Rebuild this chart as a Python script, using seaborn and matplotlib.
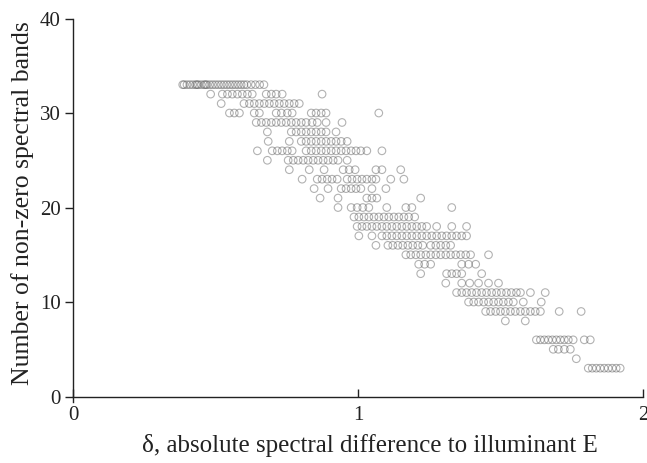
import matplotlib
matplotlib.use("Agg")
import matplotlib.pyplot as plt
import seaborn as sns
import pandas as pd

# x positions (delta) of the points in each row of band count
x_33 = [0.385, 0.39, 0.40, 0.41, 0.42, 0.43, 0.435, 0.44, 0.45, 0.46, 0.465, 0.47, 0.48, 0.49,
        0.50, 0.51, 0.52, 0.53, 0.54, 0.55, 0.56, 0.57, 0.58, 0.59, 0.60, 0.61, 0.625, 0.64, 0.655, 0.67]
x_32 = [0.483, 0.524, 0.542, 0.559, 0.577, 0.594, 0.612, 0.629, 0.678, 0.696, 0.713, 0.734, 0.874]
x_31 = [0.52, 0.60, 0.619, 0.636, 0.654, 0.671, 0.689, 0.706, 0.724, 0.741, 0.759, 0.776, 0.794]
x_30 = [0.549, 0.566, 0.584, 0.636, 0.654, 0.713, 0.731, 0.752, 0.769, 0.836, 0.853, 0.871, 0.888, 1.073]
x_29 = [0.643, 0.661, 0.678, 0.696, 0.713, 0.731, 0.748, 0.766, 0.783, 0.801, 0.818, 0.839, 0.857, 0.888, 0.944]
x_28 = [0.682, 0.766, 0.783, 0.801, 0.818, 0.836, 0.853, 0.871, 0.888, 0.923]
x_27 = [0.685, 0.759, 0.801, 0.818, 0.836, 0.853, 0.871, 0.888, 0.906, 0.923, 0.941, 0.962]
x_26 = [0.647, 0.699, 0.717, 0.734, 0.752, 0.769, 0.818, 0.836, 0.853, 0.871, 0.888, 0.906, 0.923,
        0.941, 0.958, 0.976, 0.993, 1.010, 1.031, 1.084]
x_25 = [0.682, 0.755, 0.773, 0.790, 0.808, 0.825, 0.843, 0.860, 0.878, 0.895, 0.913, 0.930, 0.962]
x_24 = [0.759, 0.829, 0.881, 0.948, 0.969, 0.990, 1.063, 1.084, 1.150]
x_23 = [0.804, 0.857, 0.874, 0.892, 0.909, 0.927, 0.962, 0.979, 0.997, 1.014, 1.031, 1.049, 1.063, 1.115, 1.161]
x_22 = [0.846, 0.895, 0.941, 0.958, 0.976, 0.993, 1.010, 1.049, 1.098]
x_21 = [0.867, 0.930, 1.031, 1.049, 1.066, 1.220]
x_20 = [0.930, 0.976, 0.997, 1.017, 1.038, 1.101, 1.168, 1.189, 1.329]
x_19 = [0.986, 1.003, 1.021, 1.038, 1.056, 1.073, 1.091, 1.108, 1.126, 1.143, 1.161, 1.178, 1.199]
x_18 = [0.997, 1.014, 1.031, 1.049, 1.066, 1.084, 1.101, 1.119, 1.136, 1.154, 1.171, 1.189, 1.206,
        1.224, 1.241, 1.276, 1.329, 1.381]
x_17 = [1.003, 1.049, 1.084, 1.101, 1.119, 1.136, 1.154, 1.171, 1.189, 1.206, 1.224, 1.241, 1.259,
        1.276, 1.294, 1.311, 1.329, 1.346, 1.364, 1.381]
x_16 = [1.063, 1.105, 1.122, 1.140, 1.157, 1.175, 1.192, 1.210, 1.227, 1.255, 1.273, 1.290, 1.308, 1.325]
x_15 = [1.168, 1.185, 1.203, 1.220, 1.238, 1.255, 1.273, 1.290, 1.308, 1.325, 1.343, 1.360, 1.378, 1.395, 1.458]
x_14 = [1.213, 1.234, 1.255, 1.364, 1.388, 1.413]
x_13 = [1.220, 1.311, 1.329, 1.346, 1.364, 1.434]
x_12 = [1.308, 1.364, 1.392, 1.423, 1.458, 1.493]
x_11 = [1.346, 1.364, 1.381, 1.399, 1.416, 1.434, 1.451, 1.469, 1.486, 1.503, 1.521, 1.538, 1.556,
        1.570, 1.605, 1.657]
x_10 = [1.388, 1.406, 1.423, 1.441, 1.458, 1.476, 1.493, 1.510, 1.528, 1.545, 1.580, 1.643]
x_9 = [1.448, 1.465, 1.483, 1.500, 1.517, 1.535, 1.552, 1.570, 1.587, 1.605, 1.622, 1.640, 1.706, 1.783]
x_8 = [1.517, 1.587]
x_6 = [1.626, 1.640, 1.654, 1.668, 1.682, 1.696, 1.710, 1.724, 1.738, 1.755, 1.794, 1.815]
x_5 = [1.685, 1.703, 1.724, 1.745]
x_4 = [1.766]
x_3 = [1.808, 1.822, 1.836, 1.850, 1.864, 1.878, 1.892, 1.906, 1.920]

band_counts = [33, 32, 31, 30, 29, 28, 27, 26, 25, 24, 23, 22, 21, 20, 19, 18, 17, 16, 15, 14,
               13, 12, 11, 10, 9, 8, 6, 5, 4, 3]
row_x = [x_33, x_32, x_31, x_30, x_29, x_28, x_27, x_26, x_25, x_24, x_23, x_22, x_21, x_20, x_19,
         x_18, x_17, x_16, x_15, x_14, x_13, x_12, x_11, x_10, x_9, x_8, x_6, x_5, x_4, x_3]

x_ticks = [0, 1, 2]
y_ticks = [0, 10, 20, 30, 40]
x_label = "δ, absolute spectral difference to illuminant E"
y_label = "Number of non-zero spectral bands"

rows = []
for n, xs in zip(band_counts, row_x):
    for v in xs:
        rows.append({"delta": v, "bands": n})
df = pd.DataFrame(rows)

sns.set_style("ticks")
plt.rcParams["font.family"] = ["Liberation Serif", "DejaVu Serif"]

fig = plt.figure(figsize=(6.47, 4.63), dpi=100)
ax = fig.add_axes([0.1128, 0.1313, 0.881, 0.8287])

sns.scatterplot(data=df, x="delta", y="bands", ax=ax, marker="o", s=30,
                facecolor="none", edgecolor="#555555", linewidth=0.8, alpha=0.45)

ax.set_xlim(0, 2)
ax.set_ylim(-0.6, 40)
ax.spines["bottom"].set_position(("data", 0))
ax.spines["top"].set_visible(False)
ax.spines["right"].set_visible(False)
for sp in ["left", "bottom"]:
    ax.spines[sp].set_color("#222222")
    ax.spines[sp].set_linewidth(1.0)

ax.set_xticks(x_ticks)
ax.set_yticks(y_ticks)
ax.set_xticklabels([str(t) for t in x_ticks])
ax.set_yticklabels([str(t) for t in y_ticks])
ax.tick_params(axis="x", direction="in", length=6, width=1.0, labelsize=15, pad=7, colors="#222222")
ax.tick_params(axis="y", direction="out", length=6, width=1.0, labelsize=15, pad=3, colors="#222222")

ax.set_xlabel(x_label, fontsize=18, color="#222222")
ax.set_ylabel(y_label, fontsize=18.5, color="#222222")
ax.xaxis.set_label_coords(0.521, -0.082)
ax.yaxis.set_label_coords(-0.068, 0.519)

fig.savefig("out.png", dpi=100)
